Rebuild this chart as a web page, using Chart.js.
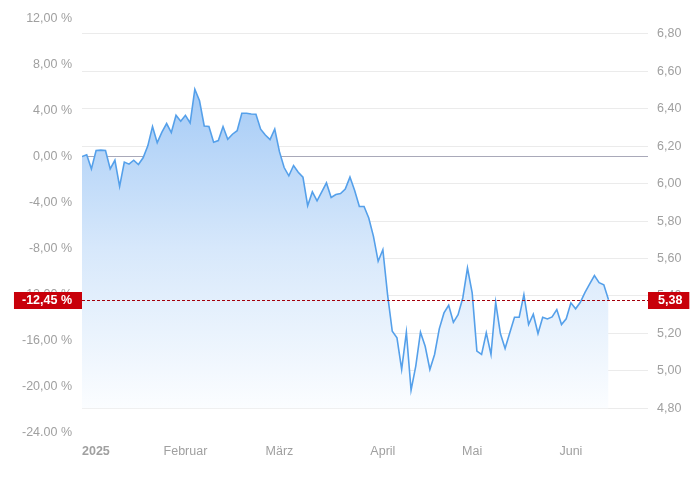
<!DOCTYPE html>
<html>
<head>
<meta charset="utf-8">
<script src="https://cdn.jsdelivr.net/npm/chart.js@4.4.1/dist/chart.umd.min.js"></script>
<style>
  html, body { margin: 0; padding: 0; background: #fff; }
  #chart { display: block; }
</style>
</head>
<body>
<canvas id="chart" width="698" height="485"></canvas>
<script>
// daily closing prices, first trading day of 2025 = base for the % axis
const prices = [
  6.145, 6.154, 6.079, 6.177, 6.179, 6.177, 6.079, 6.125, 5.985, 6.115,
  6.104, 6.125, 6.102, 6.138, 6.202, 6.305, 6.219, 6.275, 6.321, 6.273,
  6.365, 6.333, 6.365, 6.324, 6.504, 6.443, 6.308, 6.305, 6.221, 6.230,
  6.305, 6.237, 6.264, 6.283, 6.376, 6.376, 6.372, 6.371, 6.291, 6.260,
  6.235, 6.292, 6.171, 6.086, 6.042, 6.097, 6.061, 6.035, 5.882, 5.956,
  5.908, 5.956, 6.004, 5.926, 5.942, 5.947, 5.971, 6.035, 5.963, 5.878,
  5.878, 5.816, 5.718, 5.585, 5.647, 5.407, 5.211, 5.176, 5.007, 5.206,
  4.897, 5.025, 5.206, 5.131, 5.007, 5.087, 5.224, 5.309, 5.350, 5.259,
  5.300, 5.389, 5.549, 5.416, 5.105, 5.087, 5.203, 5.087, 5.366, 5.199,
  5.119, 5.203, 5.286, 5.286, 5.407, 5.247, 5.302, 5.199, 5.286, 5.277,
  5.288, 5.327, 5.247, 5.278, 5.363, 5.331, 5.366, 5.419, 5.464, 5.509,
  5.471, 5.459, 5.38
];

// month labels sit on the trading-day index where the month starts
const xTickIndex = [0, 22, 42, 64, 83, 104];
const xTickLabels = ['2025', 'Februar', 'März', 'April', 'Mai', 'Juni'];
const xMax = 120.4;

const priceTicks = [4.8, 5.0, 5.2, 5.4, 5.6, 5.8, 6.0, 6.2, 6.4, 6.6, 6.8];
const pctTicks = [-24, -20, -16, -12, -8, -4, 0, 4, 8, 12];
const pctTickLabels = ['-24.00 %', '-20,00 %', '-16,00 %', '-12,00 %', '-8,00 %',
                       '-4,00 %', '0,00 %', '4,00 %', '8,00 %', '12,00 %'];

const base = prices[0];
const last = prices[prices.length - 1];
const lastPct = (last / base - 1) * 100;

const FONT = '"Liberation Sans", Arial, sans-serif';
const FSIZE = 12.5;
const GREY = '#a0a0a0';
const RED = '#c8000a';

function deNum(v, digits) {
    return v.toFixed(digits).replace('.', ',');
}

// dashed line at the last price plus the two red value boxes
const lastValuePlugin = {
    id: 'lastValue',
    afterDraw(chart) {
        const ctx = chart.ctx;
        const area = chart.chartArea;
        const y = Math.round(chart.scales.price.getPixelForValue(last)) + 0.5;

        ctx.save();
        ctx.strokeStyle = '#a3000a';
        ctx.lineWidth = 1;
        ctx.setLineDash([3, 2]);
        ctx.beginPath();
        ctx.moveTo(area.left, y);
        ctx.lineTo(area.right, y);
        ctx.stroke();
        ctx.setLineDash([]);

        ctx.font = 'bold ' + FSIZE + 'px ' + FONT;
        ctx.textBaseline = 'middle';

        // left box (percent)
        let txt = (lastPct < 0 ? '-' : '') + deNum(Math.abs(lastPct), 2) + ' %';
        let w = ctx.measureText(txt).width;
        let textRight = area.left - 10;
        let boxLeft = textRight - w - 8;
        ctx.fillStyle = RED;
        ctx.fillRect(boxLeft, y - 8.5, area.left - boxLeft, 17);
        ctx.fillStyle = '#fff';
        ctx.textAlign = 'right';
        ctx.fillText(txt, textRight, y + 0.5);

        // right box (price)
        txt = deNum(last, 2);
        w = ctx.measureText(txt).width;
        ctx.fillStyle = RED;
        ctx.fillRect(area.right, y - 8.5, w + 17, 17);
        ctx.fillStyle = '#fff';
        ctx.textAlign = 'left';
        ctx.fillText(txt, area.right + 10, y + 0.5);
        ctx.restore();
    }
};

function areaGradient(context) {
    const chart = context.chart;
    if (!chart.chartArea) {
        return 'rgba(170,205,246,0.6)';
    }
    const top = chart.scales.price.getPixelForValue(6.5);
    const bottom = chart.scales.price.getPixelForValue(4.8);
    const g = chart.ctx.createLinearGradient(0, top, 0, bottom);
    g.addColorStop(0, 'rgba(165,203,246,1)');
    g.addColorStop(0.5, 'rgba(215,232,251,1)');
    g.addColorStop(1, 'rgba(251,253,255,1)');
    return g;
}

new Chart(document.getElementById('chart'), {
    type: 'line',
    data: {
        datasets: [{
            data: prices.map((p, i) => ({ x: i, y: p })),
            xAxisID: 'x',
            yAxisID: 'price',
            borderColor: '#55a0ea',
            borderWidth: 1.6,
            pointRadius: 0,
            tension: 0,
            fill: { value: 4.8 },
            backgroundColor: areaGradient
        }]
    },
    options: {
        responsive: false,
        animation: false,
        layout: { padding: { top: 18.5, left: 0, right: 0, bottom: 0 } },
        plugins: {
            legend: { display: false },
            tooltip: { enabled: false }
        },
        scales: {
            x: {
                type: 'linear',
                min: 0,
                max: xMax,
                grid: { display: false },
                border: { display: false },
                afterBuildTicks: axis => {
                    axis.ticks = xTickIndex.map(v => ({ value: v })).concat([{ value: xMax }]);
                },
                afterFit: axis => { axis.height = 52.5; },
                ticks: {
                    autoSkip: false,
                    maxRotation: 0,
                    align: 'inner',
                    padding: 4,
                    color: GREY,
                    font: ctx => ({ family: FONT, size: FSIZE, weight: ctx.index === 0 ? 'bold' : 'normal' }),
                    callback: (v, i) => (i < xTickLabels.length ? xTickLabels[i] : '')
                }
            },
            pct: {
                type: 'linear',
                position: 'left',
                min: pctTicks[0],
                max: pctTicks[pctTicks.length - 1],
                border: { display: false },
                grid: {
                    drawTicks: false,
                    lineWidth: 1,
                    color: ctx => (ctx.tick && ctx.tick.value === 0 ? '#a9a9b9' : 'rgba(0,0,0,0)')
                },
                afterBuildTicks: axis => {
                    axis.ticks = pctTicks.map(v => ({ value: v }));
                },
                afterFit: axis => { axis.width = 82; },
                ticks: {
                    padding: 10,
                    color: GREY,
                    font: { family: FONT, size: FSIZE },
                    callback: v => pctTickLabels[pctTicks.indexOf(v)]
                }
            },
            price: {
                type: 'linear',
                position: 'right',
                min: base * (1 + pctTicks[0] / 100),
                max: base * (1 + pctTicks[pctTicks.length - 1] / 100),
                border: { display: false },
                grid: { drawTicks: false, color: '#ebebeb', lineWidth: 1 },
                afterBuildTicks: axis => {
                    axis.ticks = priceTicks.map(v => ({ value: v }));
                },
                afterFit: axis => { axis.width = 50; },
                ticks: {
                    padding: 9,
                    color: GREY,
                    font: { family: FONT, size: FSIZE },
                    callback: v => deNum(v, 2)
                }
            }
        }
    },
    plugins: [lastValuePlugin]
});
</script>
</body>
</html>
